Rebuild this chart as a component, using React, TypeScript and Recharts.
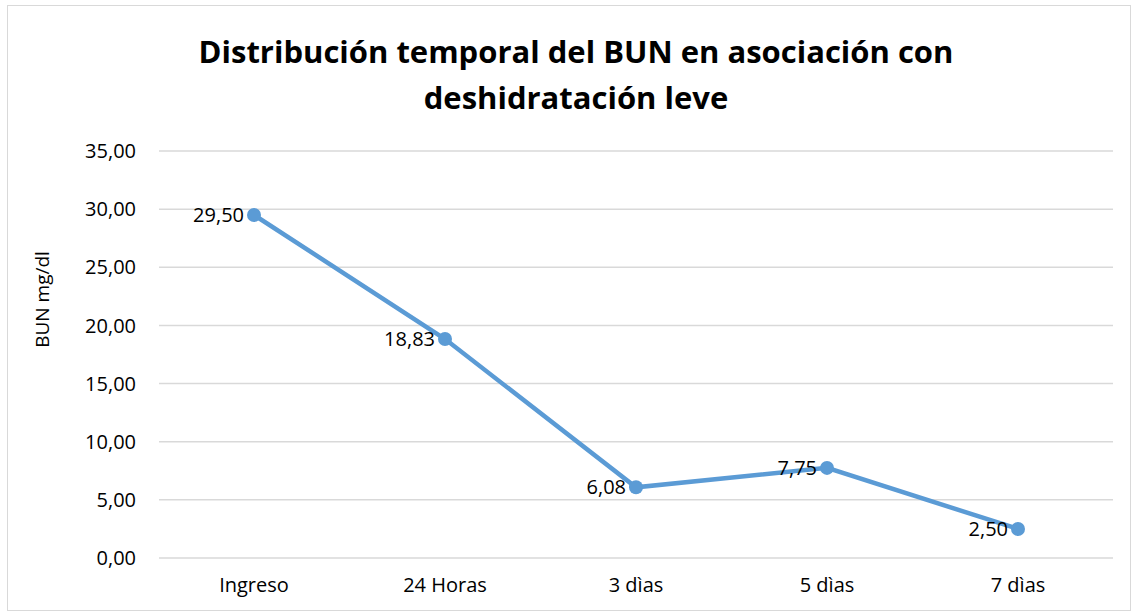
import React from 'react'
import { CartesianGrid, LabelList, Line, LineChart, XAxis, YAxis } from 'recharts'

const categories = ['Ingreso', '24 Horas', '3 dìas', '5 dìas', '7 dìas']
const bunValues = [29.5, 18.83, 6.08, 7.75, 2.5]
const yTicks = [0, 5, 10, 15, 20, 25, 30, 35]

const data = categories.map((c, i) => ({ name: c, bun: bunValues[i] }))

const fmt = (v: number) => v.toFixed(2).replace('.', ',')
const FONT = "'Open Sans', 'Noto Sans', sans-serif"

function App() {
  return (
    <div style={{ position: 'absolute', left: 0, top: 0, width: 1134, height: 613, background: '#fff' }}>
      <div style={{ position: 'absolute', left: 7, top: 5, width: 1122, height: 604, border: '1.5px solid #d9d9d9' }} />
      <div style={{ position: 'absolute', left: 0, top: 28, width: 1152, textAlign: 'center', fontFamily: FONT, fontWeight: 700, fontSize: 31, lineHeight: '46px', color: '#000' }}>
        Distribución temporal del BUN en asociación con<br />deshidratación leve
      </div>
      <div style={{ position: 'absolute', left: 0, top: 0 }}>
        <LineChart width={1134} height={613} data={data} margin={{ top: 151, right: 21, bottom: 0, left: 0 }}>
          <CartesianGrid vertical={false} stroke="#d9d9d9" strokeWidth={1.5} />
          <XAxis dataKey="name" height={55} axisLine={false} tickLine={false} tickMargin={14}
            padding={{ left: 95, right: 95 }}
            tick={{ fill: '#000', fontSize: 20, fontFamily: FONT }} />
          <YAxis domain={[0, 35]} ticks={yTicks} width={159} axisLine={false} tickLine={false} tickMargin={17}
            tickFormatter={fmt} tick={{ fill: '#000', fontSize: 20, fontFamily: FONT }}
            label={{ value: 'BUN mg/dl', angle: -90, position: 'insideLeft', offset: 42, dy: -55, style: { fill: '#000', fontSize: 19, fontFamily: FONT, textAnchor: 'middle' } }} />
          <Line type="linear" dataKey="bun" stroke="#5b9bd5" strokeWidth={4.5} isAnimationActive={false}
            dot={{ r: 7, fill: '#5b9bd5', stroke: '#5b9bd5', strokeWidth: 0 }}>
            <LabelList dataKey="bun" position="left" offset={10} formatter={(v: any) => fmt(Number(v))}
              style={{ fill: '#000', fontSize: 20, fontFamily: FONT }} />
          </Line>
        </LineChart>
      </div>
    </div>
  )
}

export default App
